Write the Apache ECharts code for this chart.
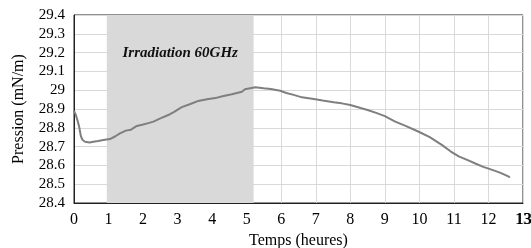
<!DOCTYPE html>
<html>
<head>
<meta charset="utf-8">
<script src="https://cdn.jsdelivr.net/npm/echarts@6/dist/echarts.min.js"></script>
<style>
    html, body {margin: 0; padding: 0; background: #fff;}
    #chart {width: 531px; height: 248px;}
</style>
</head>
<body>
<div id="chart"></div>
<script>
// temps (heures)
var temps = [0, 0.05, 0.1, 0.15, 0.2, 0.25, 0.32, 0.45, 0.56, 0.7, 0.85, 1.04, 1.2, 1.33, 1.5, 1.65, 1.82,
    2.0, 2.15, 2.3, 2.5, 2.73, 2.9, 3.12, 3.35, 3.6, 3.85, 4.09, 4.3, 4.57, 4.86, 4.95, 5.0, 5.25, 5.49,
    5.7, 5.97, 6.15, 6.36, 6.6, 6.94, 7.2, 7.52, 7.75, 8.0, 8.3, 8.5, 8.77, 9.0, 9.3, 9.6, 9.98, 10.3,
    10.66, 10.9, 11.14, 11.4, 11.62, 11.85, 12.11, 12.35, 12.59, 12.62];
// pression (mN/m)
var pression = [28.89, 28.87, 28.84, 28.805, 28.755, 28.735, 28.726, 28.722, 28.726, 28.73, 28.735, 28.74,
    28.755, 28.77, 28.785, 28.79, 28.81, 28.818, 28.825, 28.833, 28.85, 28.868, 28.885, 28.91, 28.925,
    28.943, 28.952, 28.958, 28.968, 28.978, 28.992, 29.005, 29.013, 29.016, 29.01, 29.006, 28.997, 28.985,
    28.975, 28.962, 28.953, 28.945, 28.936, 28.93, 28.921, 28.905, 28.895, 28.878, 28.862, 28.833, 28.81,
    28.779, 28.75, 28.708, 28.675, 28.648, 28.628, 28.61, 28.592, 28.576, 28.56, 28.54, 28.535];
// période d'irradiation
var irradiation = [0.95, 5.2];
var irradiationLabel = 'Irradiation 60GHz';
// bornes des axes
var xMax = 13;
var yMin = 28.4;

var serif = '"Liberation Serif", "DejaVu Serif", serif';
var data = [];
for (var i = 0; i < temps.length; i++) {
    data.push([temps[i], pression[i]]);
}

var myChart = echarts.init(document.getElementById('chart'));
var option = {
    animation: false,
    grid: {
        left: 74,
        top: 15,
        right: 8,
        bottom: 45,
        outerBoundsMode: 'none',
        show: true,
        borderColor: '#222',
        borderWidth: 1
    },
    xAxis: {
        type: 'value',
        min: 0,
        max: xMax,
        interval: 1,
        name: 'Temps (heures)',
        nameLocation: 'middle',
        nameGap: 30,
        nameTextStyle: {color: '#000', fontFamily: serif, fontSize: 16},
        axisLine: {show: true, lineStyle: {color: '#222'}},
        axisTick: {show: false},
        axisLabel: {color: '#000', fontFamily: serif, fontSize: 16, margin: 9},
        splitLine: {show: true, lineStyle: {color: '#d9d9d9'}}
    },
    yAxis: {
        type: 'value',
        min: yMin,
        max: 29.4,
        interval: 0.1,
        name: 'Pression (mN/m)',
        nameLocation: 'middle',
        nameGap: 47,
        nameTextStyle: {color: '#000', fontFamily: serif, fontSize: 16},
        axisLine: {show: true, lineStyle: {color: '#222'}},
        axisTick: {show: false},
        axisLabel: {
            color: '#000', fontFamily: serif, fontSize: 15, margin: 9,
            formatter: function (v) {
                return String(Math.round(v * 10) / 10);
            }
        },
        splitLine: {show: true, lineStyle: {color: '#d9d9d9'}}
    },
    series: [
        {
            type: 'line',
            data: data,
            showSymbol: false,
            lineStyle: {color: '#7f7f7f', width: 2},
            markArea: {
                silent: true,
                itemStyle: {color: '#d9d9d9'},
                label: {
                    show: true,
                    position: 'insideTop',
                    distance: 31,
                    color: '#111',
                    fontFamily: serif,
                    fontStyle: 'italic',
                    fontWeight: 'bold',
                    fontSize: 15
                },
                data: [[{name: irradiationLabel, xAxis: irradiation[0]}, {xAxis: irradiation[1]}]]
            },
            z: 3
        }
    ]
};
myChart.setOption(option);

// le dernier label (13) déborde du cadre, echarts le masque : on le rajoute
var p = myChart.convertToPixel({gridIndex: 0}, [xMax, yMin]);
myChart.setOption({
    graphic: [{
        id: 'labelMax',
        type: 'text',
        silent: true,
        x: Math.round(p[0]) + 1,
        y: Math.round(p[1]) + 9,
        style: {
            text: String(xMax),
            fill: '#000',
            stroke: null,
            lineWidth: 0,
            fontFamily: serif,
            fontSize: 16,
            fontWeight: 'normal',
            align: 'center',
            verticalAlign: 'top'
        }
    }]
});
</script>
</body>
</html>
